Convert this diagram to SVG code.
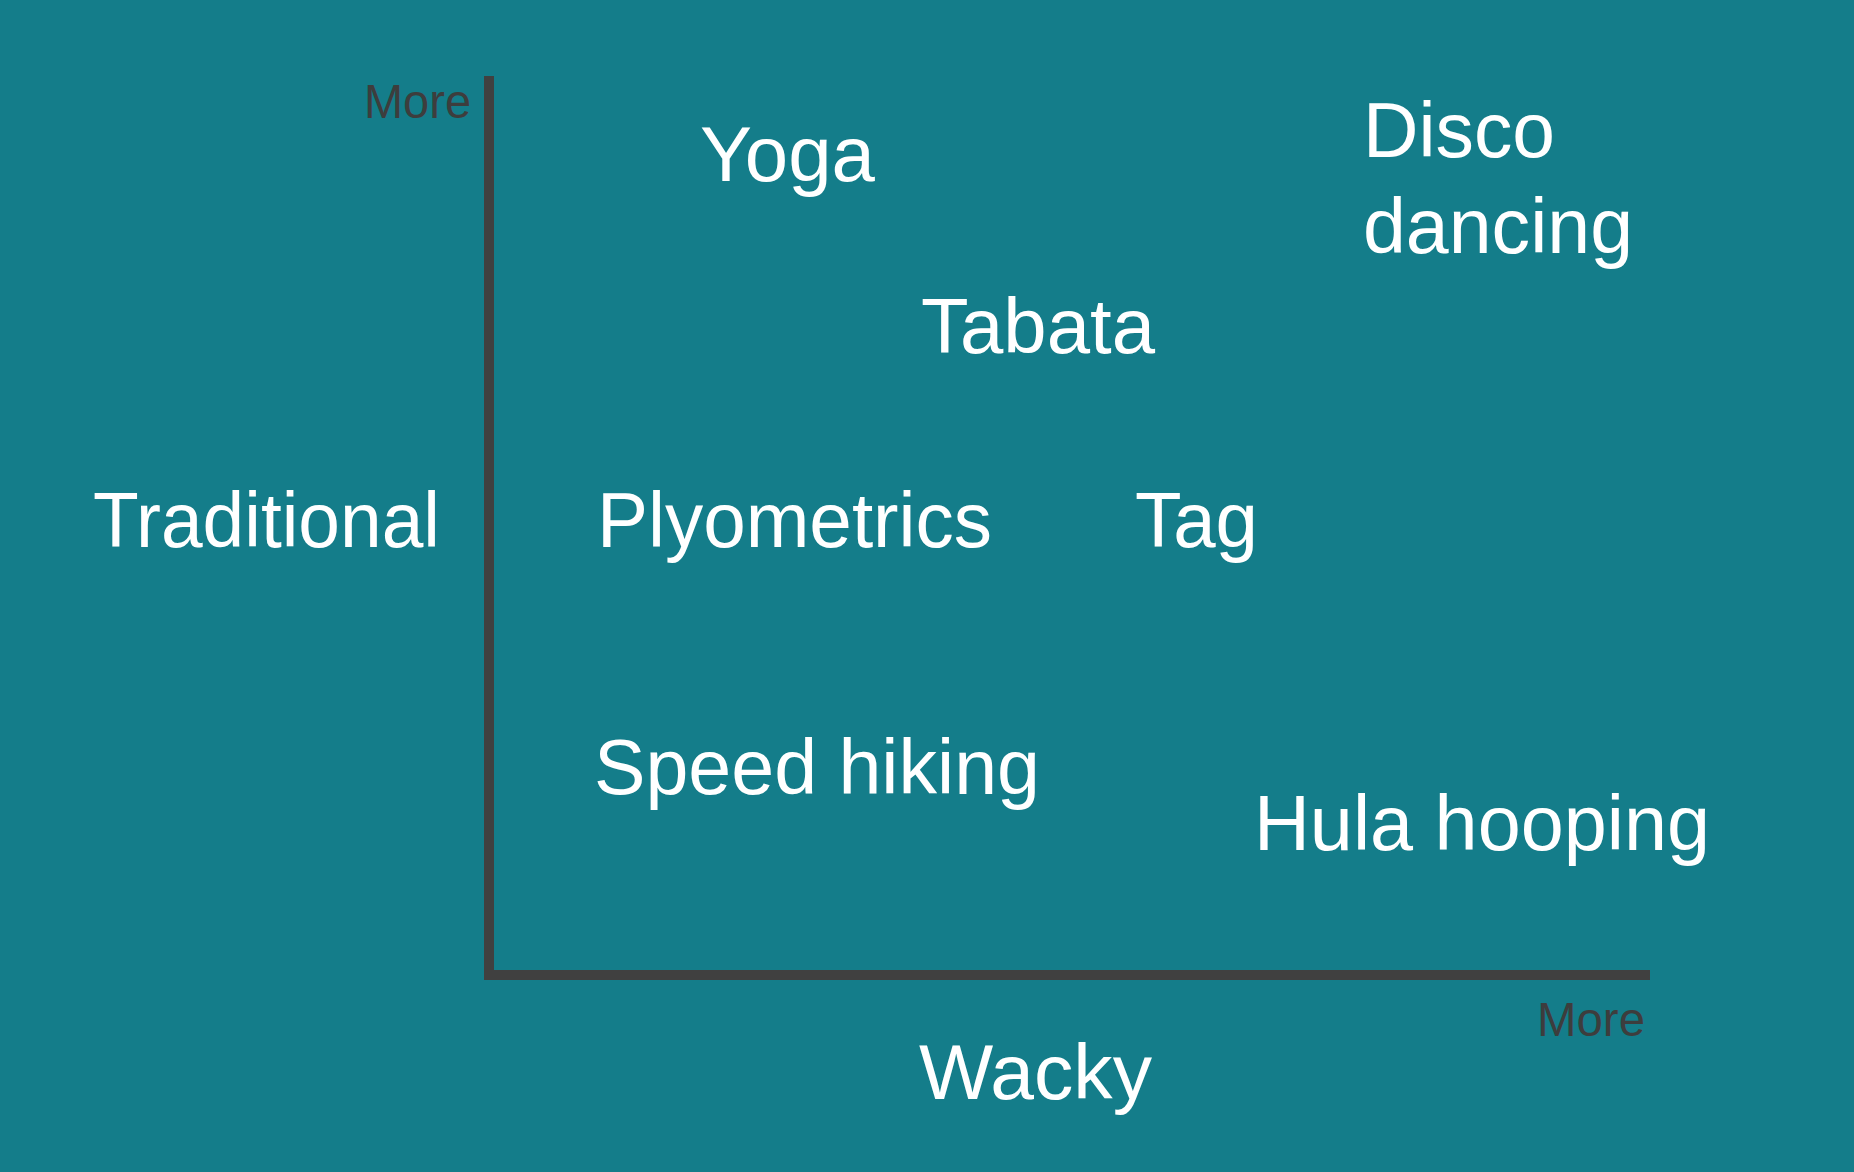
<svg xmlns="http://www.w3.org/2000/svg" width="1854" height="1172" viewBox="0 0 1854 1172">
<style>
.lbl{font-family:"Liberation Sans",Arial,sans-serif;font-size:77px;fill:#ffffff;}
.more{font-family:"Liberation Sans",Arial,sans-serif;font-size:48px;fill:#3d3d3d;}
.axis{stroke:#404040;stroke-width:10;fill:none;}
</style>
<rect width="1854" height="1172" fill="#147D8A"/>
<g id="axes">
<line class="axis" x1="489" y1="76" x2="489" y2="977"/>
<line class="axis" x1="484" y1="975" x2="1650" y2="975"/>
</g>
<g id="axis-labels">
<text class="more" x="364" y="118" textLength="107" lengthAdjust="spacingAndGlyphs">More</text>
<text class="more" x="1537" y="1036" textLength="108" lengthAdjust="spacingAndGlyphs">More</text>
<text class="lbl" x="93" y="547" textLength="347" lengthAdjust="spacingAndGlyphs">Traditional</text>
<text class="lbl" x="919" y="1099" textLength="233" lengthAdjust="spacingAndGlyphs">Wacky</text>
</g>
<g id="yoga"><text class="lbl" x="700" y="181" textLength="175" lengthAdjust="spacingAndGlyphs">Yoga</text></g>
<g id="disco"><text class="lbl" x="1363" y="157" textLength="192" lengthAdjust="spacingAndGlyphs">Disco</text><text class="lbl" x="1363" y="253" textLength="270" lengthAdjust="spacingAndGlyphs">dancing</text></g>
<g id="tabata"><text class="lbl" x="921" y="353" textLength="234" lengthAdjust="spacingAndGlyphs">Tabata</text></g>
<g id="plyometrics"><text class="lbl" x="597" y="547" textLength="395" lengthAdjust="spacingAndGlyphs">Plyometrics</text></g>
<g id="tag"><text class="lbl" x="1135" y="547" textLength="123" lengthAdjust="spacingAndGlyphs">Tag</text></g>
<g id="speed-hiking"><text class="lbl" x="594" y="794" textLength="446" lengthAdjust="spacingAndGlyphs">Speed hiking</text></g>
<g id="hula-hooping"><text class="lbl" x="1254" y="850" textLength="456" lengthAdjust="spacingAndGlyphs">Hula hooping</text></g>
</svg>
